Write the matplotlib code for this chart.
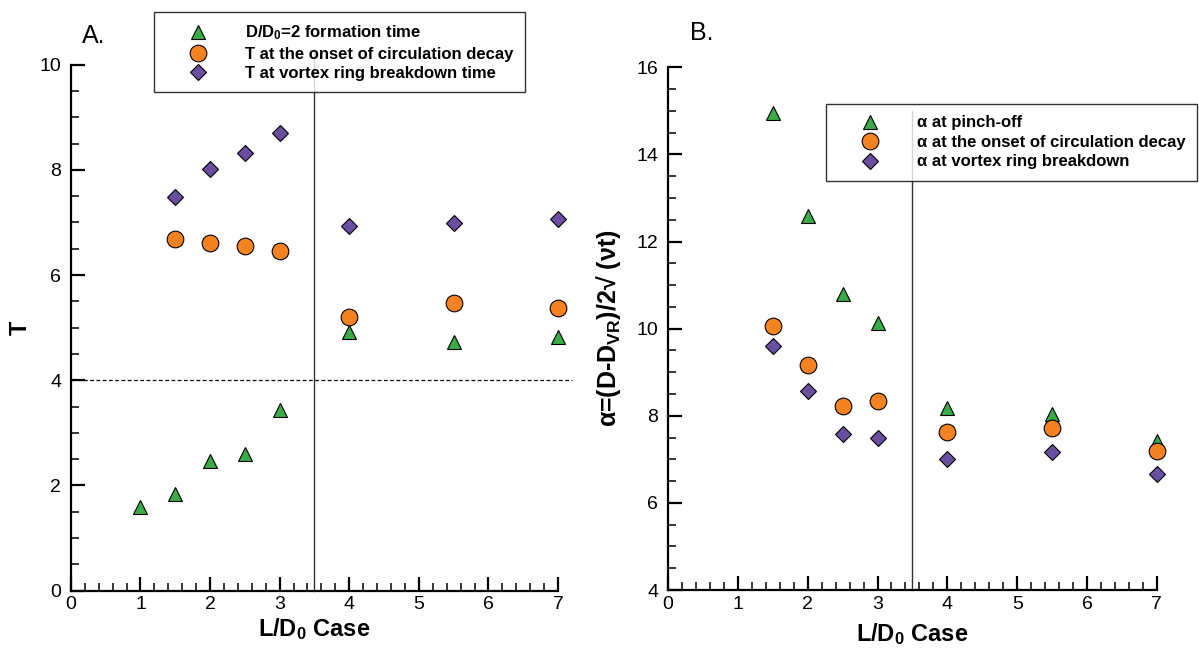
import matplotlib
matplotlib.use("Agg")
import matplotlib.pyplot as plt
from matplotlib.ticker import MultipleLocator

plt.rcParams['font.family'] = ['Liberation Sans', 'DejaVu Sans']
plt.rcParams['mathtext.fontset'] = 'custom'
plt.rcParams['mathtext.rm'] = 'Liberation Sans'
plt.rcParams['mathtext.bf'] = 'Liberation Sans:bold'
plt.rcParams['mathtext.it'] = 'Liberation Sans:italic'

# L/D0 cases
case_all = [1, 1.5, 2, 2.5, 3, 4, 5.5, 7]
case = [1.5, 2, 2.5, 3, 4, 5.5, 7]

# panel A: formation / decay / breakdown times
t_formation = [1.58, 1.84, 2.47, 2.60, 3.43, 4.92, 4.72, 4.83]
t_decay = [6.68, 6.60, 6.56, 6.46, 5.20, 5.46, 5.37]
t_breakdown = [7.48, 8.01, 8.33, 8.71, 6.93, 6.99, 7.06]

# panel B: alpha values
a_pinch = [14.95, 12.59, 10.79, 10.13, 8.18, 8.03, 7.41]
a_decay = [10.05, 9.17, 8.23, 8.35, 7.63, 7.73, 7.18]
a_breakdown = [9.61, 8.56, 7.57, 7.50, 7.00, 7.16, 6.67]

green = '#3aab47'
orange = '#f58220'
purple = '#6a4fa0'

fig = plt.figure(figsize=(11.99, 6.5), dpi=100)
axA = fig.add_axes([0.0591, 0.0914, 0.4063, 0.8091])
axB = fig.add_axes([0.5571, 0.0923, 0.4078, 0.8042])


def style_axis(ax, ylo, yhi):
    ax.set_xlim(0, 7)
    ax.set_ylim(ylo, yhi)
    for s in ['top', 'right']:
        ax.spines[s].set_visible(False)
    for s in ['left', 'bottom']:
        ax.spines[s].set_linewidth(1.6)
    ax.xaxis.set_major_locator(MultipleLocator(1))
    ax.xaxis.set_minor_locator(MultipleLocator(0.2))
    ax.yaxis.set_major_locator(MultipleLocator(2))
    ax.yaxis.set_minor_locator(MultipleLocator(0.5))
    ax.tick_params(which='major', direction='in', length=10, width=1.6,
                   labelsize=14)
    ax.tick_params(which='minor', direction='in', length=6, width=1.1)
    ax.tick_params(axis='y', pad=7)
    ax.tick_params(axis='x', pad=4)
    ax.set_xlabel('L/D$_{\\mathbf{0}}$ Case', fontsize=17, fontweight='bold')


def add_legend(ax, anchor):
    leg = ax.legend(loc='upper left', bbox_to_anchor=anchor,
                    bbox_transform=fig.transFigure, frameon=True,
                    fancybox=False, borderaxespad=0, borderpad=0.68,
                    handlelength=3.95, handletextpad=0.85, labelspacing=0.27,
                    prop={'weight': 'bold', 'size': 12})
    leg.get_frame().set_edgecolor('black')
    leg.get_frame().set_linewidth(1.0)
    return leg


mk = dict(linestyle='none', markeredgecolor='black', markeredgewidth=0.8,
          clip_on=False, zorder=3)

# ---- panel A
style_axis(axA, 0, 10)
axA.plot(case_all, t_formation, marker='^', ms=10, color=green,
         label='D/D$_{\\mathbf{0}}$=2 formation time', **mk)
axA.plot(case, t_decay, marker='o', ms=12, color=orange,
         label='T at the onset of circulation decay', **mk)
axA.plot(case, t_breakdown, marker='D', ms=7.8, color=purple,
         label='T at vortex ring breakdown time', **mk)
axA.plot([3.5, 3.5], [0, 10.3], color='#333333', lw=1, clip_on=False, zorder=1)
axA.plot([0, 7.2], [4, 4], color='black', lw=0.9, ls=(0, (3, 2)),
         clip_on=False, zorder=1)
axA.set_ylabel('T', fontsize=17, fontweight='bold')
axA.yaxis.set_label_coords(-0.08, 0.5)
axA.xaxis.set_label_coords(0.5, -0.048)
add_legend(axA, (0.1284, 0.9815))

# ---- panel B
style_axis(axB, 4, 16)
axB.plot(case, a_pinch, marker='^', ms=10, color=green,
         label='α at pinch-off', **mk)
axB.plot(case, a_decay, marker='o', ms=12, color=orange,
         label='α at the onset of circulation decay', **mk)
axB.plot(case, a_breakdown, marker='D', ms=7.8, color=purple,
         label='α at vortex ring breakdown', **mk)
axB.plot([3.5, 3.5], [4, 15], color='#333333', lw=1, clip_on=False, zorder=1)
axB.set_ylabel('α=(D-D$_{\\mathbf{VR}}$)/2√ (νt)', fontsize=18,
               fontweight='bold')
axB.yaxis.set_label_coords(-0.092, 0.5)
axB.xaxis.set_label_coords(0.5, -0.06)
add_legend(axB, (0.6889, 0.84))

fig.text(0.0784, 0.9446, 'A.', fontsize=18, ha='center', va='center')
fig.text(0.5855, 0.949, 'B.', fontsize=18, ha='center', va='center')

fig.savefig('out.png', dpi=100)
